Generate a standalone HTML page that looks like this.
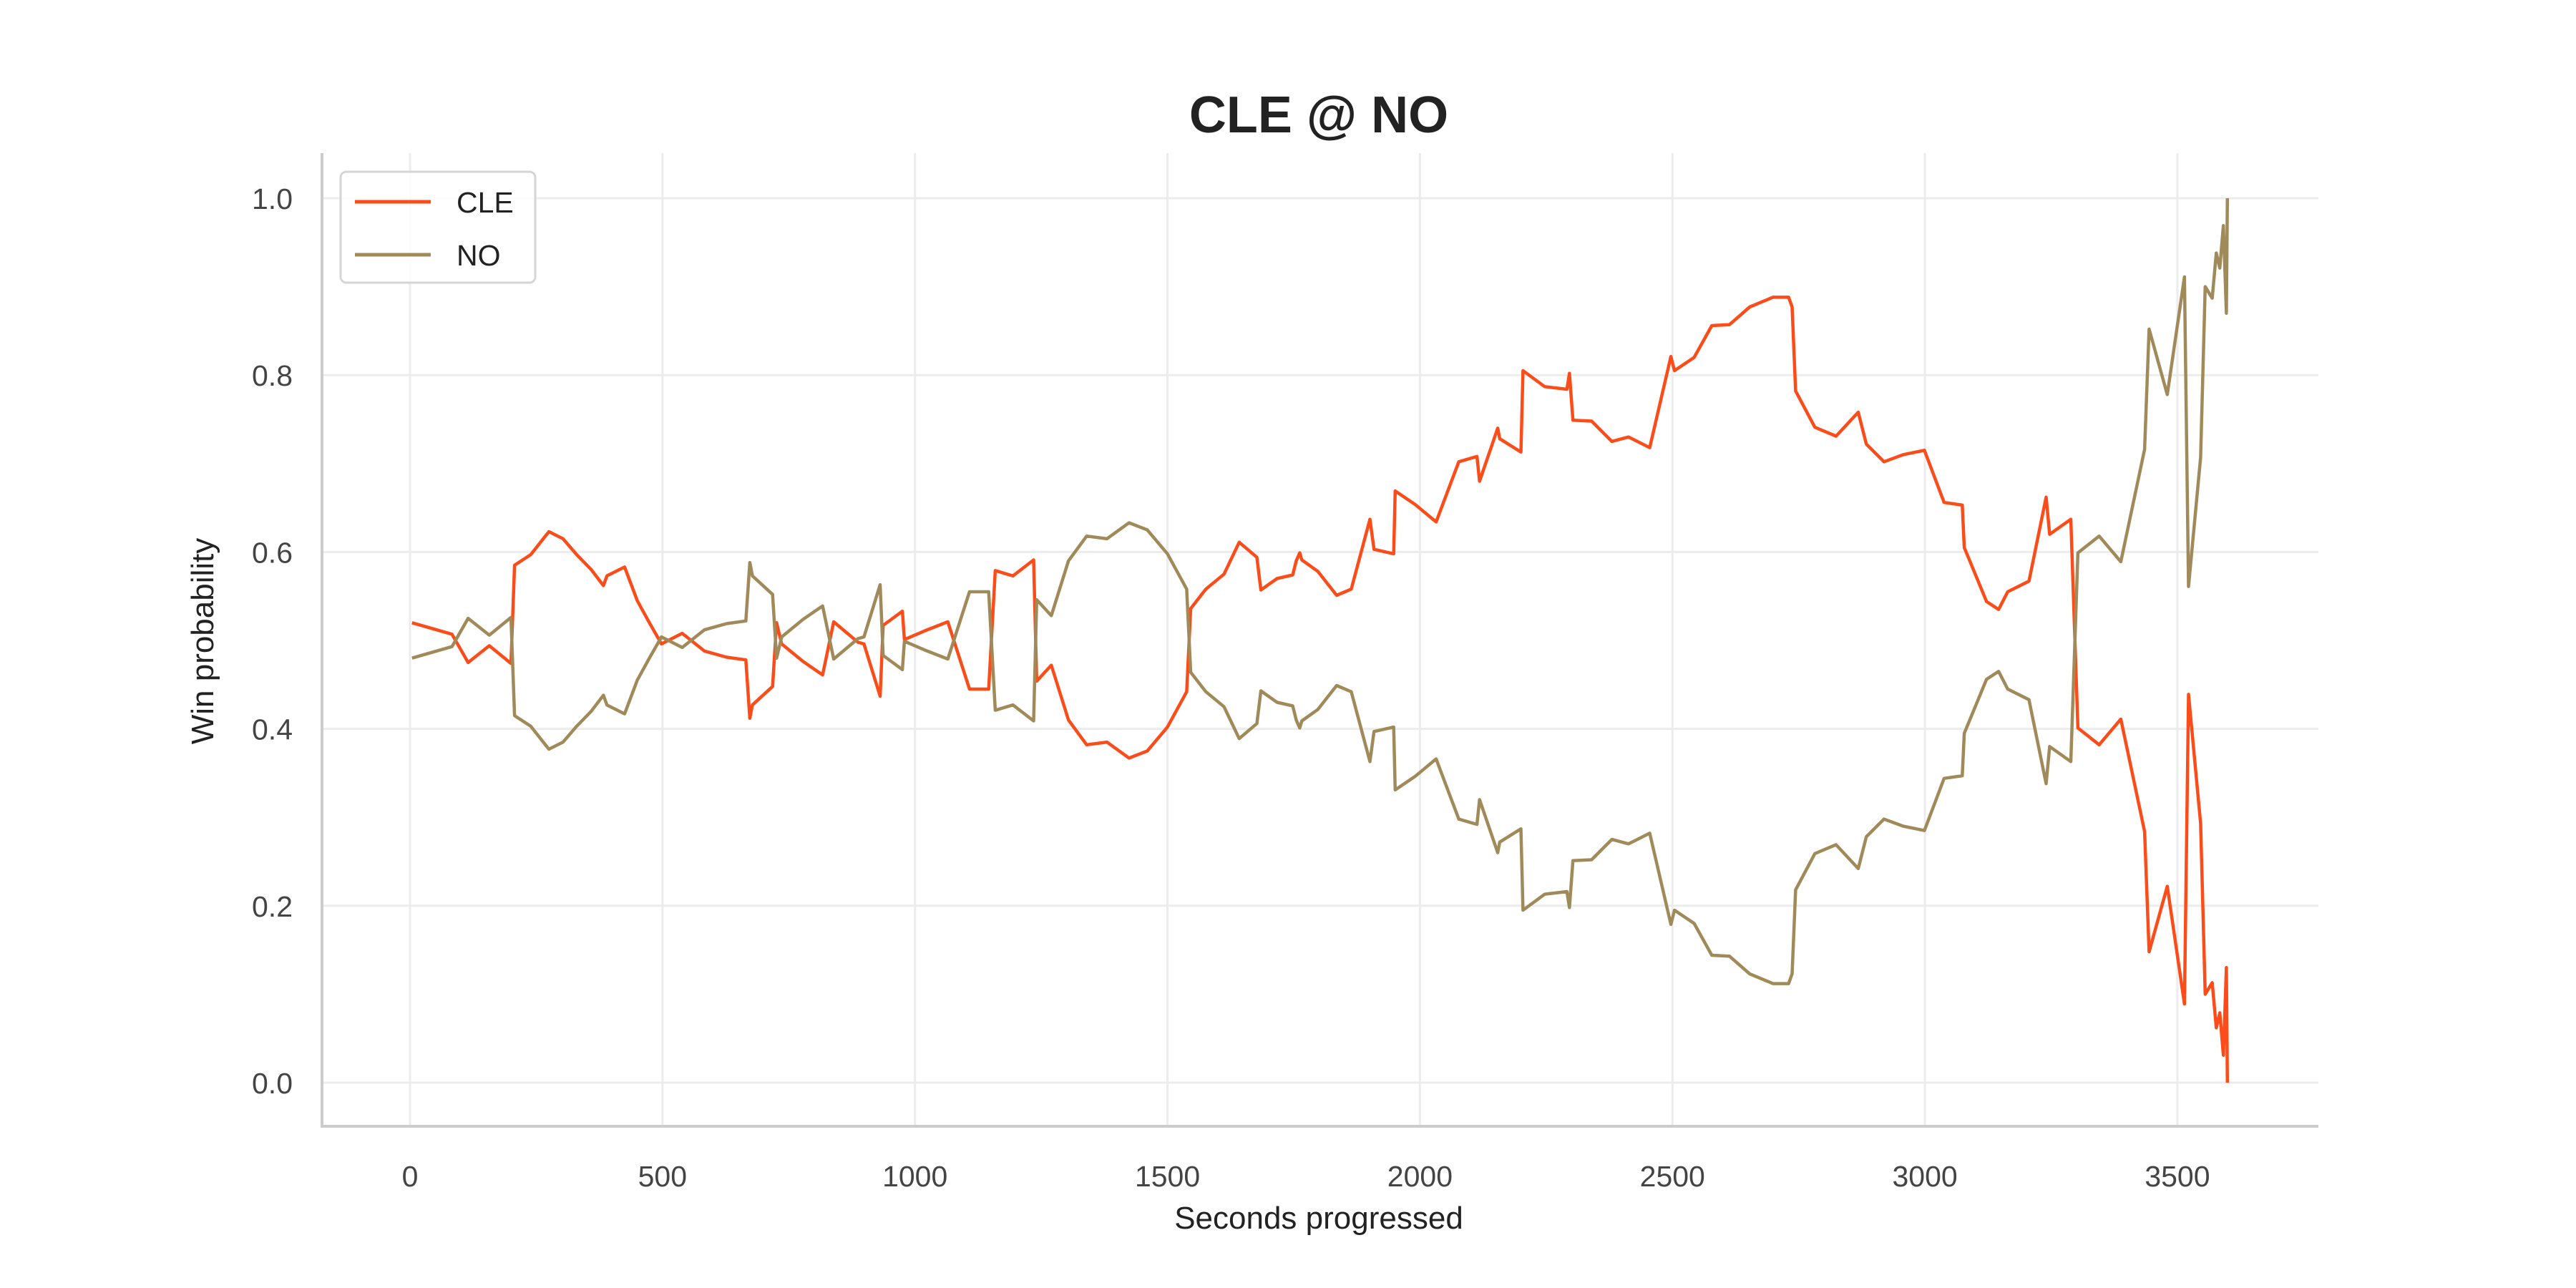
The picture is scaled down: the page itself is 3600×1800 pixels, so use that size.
<!DOCTYPE html>
<html><head><meta charset="utf-8">
<style>
html,body{margin:0;padding:0;background:#fff;}
svg{display:block;font-family:"Liberation Sans",sans-serif;}
</style></head>
<body>
<svg id="chart" width="3600" height="1800" viewBox="0 0 3600 1800" xmlns="http://www.w3.org/2000/svg">
<rect width="3600" height="1800" fill="#fff"/>
<text x="1843" y="185" text-anchor="middle" font-size="72" font-weight="bold" fill="#222">CLE @ NO</text>
<g id="grid"></g>
<g id="axes"></g>
<g id="series"></g>
<text x="1843" y="1717" text-anchor="middle" font-size="44" fill="#222">Seconds progressed</text>
<text transform="translate(298,896) rotate(-90)" text-anchor="middle" font-size="44" fill="#222">Win probability</text>
<g>
<rect x="476" y="240" width="272" height="155" rx="8" fill="#fff" fill-opacity="0.85" stroke="#d5d5d5" stroke-width="3"/>
<g>
<line x1="496" y1="282" x2="602" y2="282" stroke="#fc4c1a" stroke-width="5"/>
<text x="638" y="297" font-size="41" fill="#222">CLE</text></g>
<g>
<line x1="496" y1="356" x2="602" y2="356" stroke="#a08a5a" stroke-width="5"/>
<text x="638" y="371" font-size="41" fill="#222">NO</text></g>
</g>
</svg>
<script>
const times=[4,83,115,157,200,207,239,275,303,330,359,383,390,425,450,473,498,539,583,627,665,673,678,718,726,736,779,817,839,887,899,931,937,975,979,1020,1065,1108,1146,1159,1194,1235,1241,1270,1304,1340,1380,1424,1460,1500,1538,1546,1576,1612,1642,1677,1685,1717,1748,1755,1762,1766,1798,1835,1864,1901,1909,1948,1951,1990,2032,2077,2113,2118,2154,2158,2200,2204,2247,2291,2296,2303,2340,2380,2413,2455,2497,2504,2543,2578,2613,2653,2699,2730,2737,2744,2782,2824,2868,2884,2919,2957,2999,3038,3074,3078,3122,3146,3164,3206,3240,3247,3289,3303,3345,3388,3435,3444,3480,3514,3522,3546,3555,3569,3577,3584,3591,3597,3599];
const cleProb=[0.520,0.507,0.475,0.494,0.474,0.585,0.597,0.623,0.615,0.597,0.580,0.562,0.573,0.583,0.545,0.521,0.496,0.508,0.488,0.481,0.478,0.412,0.427,0.448,0.520,0.496,0.476,0.461,0.521,0.498,0.496,0.437,0.517,0.533,0.501,0.511,0.521,0.445,0.445,0.579,0.573,0.591,0.454,0.472,0.410,0.382,0.385,0.367,0.375,0.402,0.442,0.536,0.558,0.575,0.611,0.594,0.557,0.570,0.574,0.590,0.599,0.591,0.578,0.551,0.558,0.637,0.603,0.598,0.669,0.654,0.634,0.702,0.708,0.680,0.740,0.728,0.713,0.805,0.787,0.784,0.802,0.749,0.748,0.725,0.730,0.718,0.821,0.805,0.820,0.856,0.857,0.877,0.888,0.888,0.877,0.782,0.741,0.731,0.758,0.722,0.702,0.710,0.715,0.656,0.653,0.605,0.544,0.535,0.555,0.567,0.662,0.620,0.637,0.401,0.382,0.411,0.284,0.148,0.222,0.089,0.439,0.293,0.100,0.113,0.062,0.079,0.031,0.130,0.000];
const noProb=[0.480,0.493,0.525,0.506,0.526,0.415,0.403,0.377,0.385,0.403,0.420,0.438,0.427,0.417,0.455,0.479,0.504,0.492,0.512,0.519,0.522,0.588,0.573,0.552,0.480,0.504,0.524,0.539,0.479,0.502,0.504,0.563,0.483,0.467,0.499,0.489,0.479,0.555,0.555,0.421,0.427,0.409,0.546,0.528,0.590,0.618,0.615,0.633,0.625,0.598,0.558,0.464,0.442,0.425,0.389,0.406,0.443,0.430,0.426,0.410,0.401,0.409,0.422,0.449,0.442,0.363,0.397,0.402,0.331,0.346,0.366,0.298,0.292,0.320,0.260,0.272,0.287,0.195,0.213,0.216,0.198,0.251,0.252,0.275,0.270,0.282,0.179,0.195,0.180,0.144,0.143,0.123,0.112,0.112,0.123,0.218,0.259,0.269,0.242,0.278,0.298,0.290,0.285,0.344,0.347,0.395,0.456,0.465,0.445,0.433,0.338,0.380,0.363,0.599,0.618,0.589,0.716,0.852,0.778,0.911,0.561,0.707,0.900,0.887,0.938,0.921,0.969,0.870,1.000];
const xTicks=[0,500,1000,1500,2000,2500,3000,3500];
const yTicks=[0,0.2,0.4,0.6,0.8,1.0];
const yTickLabels=["0.0","0.2","0.4","0.6","0.8","1.0"];

const NS="http://www.w3.org/2000/svg";
const X0=573,XS=0.7057,Y0=1513,YS=1236;
const xs=t=>X0+t*XS, ys=p=>Y0-p*YS;
const L=450,R=3240,T=214,B=1574;
function mk(tag,attrs,parent){const e=document.createElementNS(NS,tag);for(const k in attrs)e.setAttribute(k,attrs[k]);parent.appendChild(e);return e;}
const grid=document.getElementById('grid'),axes=document.getElementById('axes'),series=document.getElementById('series');
xTicks.forEach(t=>{
  const g=mk('line',{x1:xs(t),x2:xs(t),y1:T,y2:B,stroke:'#ececec','stroke-width':3},grid);
  
  
  const tx=mk('text',{x:xs(t),y:1658,'text-anchor':'middle','font-size':41,fill:'#444'},axes);
  tx.textContent=String(t);
  
  
});
yTicks.forEach((p,i)=>{
  const g=mk('line',{x1:L,x2:R,y1:ys(p),y2:ys(p),stroke:'#ececec','stroke-width':3},grid);
  
  
  const tx=mk('text',{x:409,y:ys(p)+15,'text-anchor':'end','font-size':41,fill:'#444'},axes);
  tx.textContent=yTickLabels[i];
  
  
});
const ax=mk('line',{x1:L,x2:L,y1:T,y2:B+2,stroke:'#cccccc','stroke-width':4},axes);


const bx=mk('line',{x1:L-2,x2:R,y1:B,y2:B,stroke:'#cccccc','stroke-width':4},axes);


function path(vals,color,name){
  const d=vals.map((v,i)=>(i?'L':'M')+xs(times[i]).toFixed(1)+','+ys(v).toFixed(1)).join('');
  const p=mk('path',{d:d,fill:'none',stroke:color,'stroke-width':4.5,'stroke-linejoin':'round'},series);
  
  
}
path(cleProb,'#fc4c1a','cle-line');
path(noProb,'#a08a5a','no-line');
</script>
</body></html>
